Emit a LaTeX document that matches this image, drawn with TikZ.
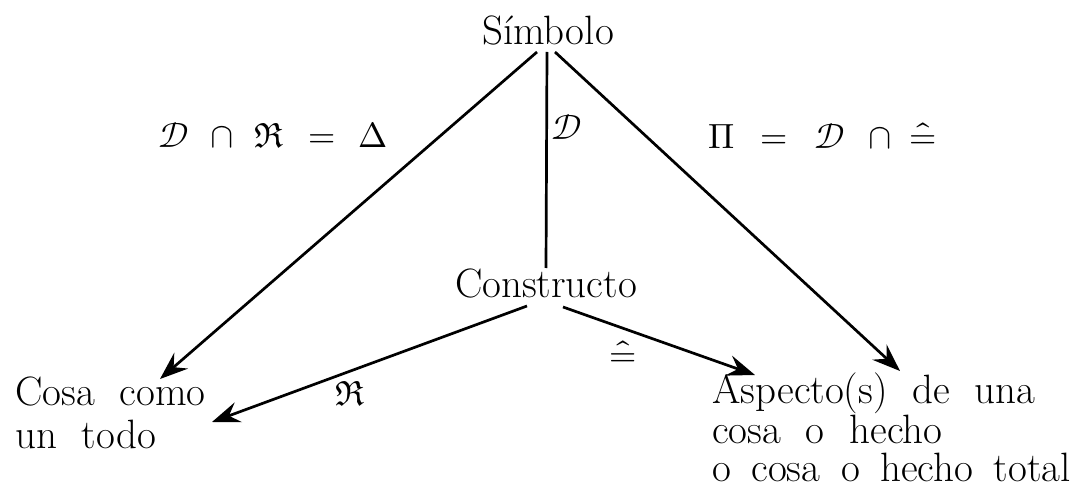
\documentclass[tikz,border=0pt]{standalone}
\usepackage{fontspec}
\usepackage{unicode-math}
\setmathfont{Latin Modern Math}
\usetikzlibrary{arrows.meta}
\tikzset{
  txt/.style={inner sep=0pt, font=\fontsize{41}{38}\selectfont},
  lbl/.style={inner sep=0pt, font=\fontsize{35}{38}\selectfont},
  conn/.style={line width=2.7pt},
  arr/.style={conn, -{Stealth[length=28pt,width=21pt,inset=10pt]}}
}
\newcommand{\wsp}{\hspace{0.5em}}
\begin{document}
\begin{tikzpicture}[x=1pt,y=-1pt]
\useasboundingbox (0,0) rectangle (1079,489);
% texts
\node[txt, anchor=base] (sim) at (548,45) {Símbolo};
\node[txt, anchor=base] (con) at (546,297) {Constructo};
\node[txt, anchor=base west, align=left] (cosa) at (15,448) {Cosa\ \ como\\[5pt]un\ \ todo};
\node[txt, anchor=base west, align=left] (asp) at (712,481) {Aspecto(s)\ \ de\ \ una\\cosa\ \ o\ \ hecho\\o\wsp cosa\wsp o\wsp hecho\wsp total};
% end points
\coordinate (s1) at (537,52);
\coordinate (s2) at (547,52);
\coordinate (s3) at (555,52);
\coordinate (c0) at (546,268);
\coordinate (c1) at (527,306);
\coordinate (c2) at (563,307);
\coordinate (t1) at (160,379);
\coordinate (t2) at (900,371);
\coordinate (t3) at (212,422);
\coordinate (t4) at (755,375);
% connectors
\draw[arr] (s1) -- (t1);
\draw[conn] (s2) -- (c0);
\draw[arr] (s3) -- (t2);
\draw[arr] (c1) -- (t3);
\draw[arr] (c2) -- (t4);
% labels
\node[lbl, anchor=base west] (l1) at (158,148) {$\mathscr{D}\mkern7mu\cap\mkern7mu\mathfrak{R}\mkern7mu=\mkern7mu\Delta$};
\node[lbl] (l2) at (567,127) {$\mathscr{D}$};
\node[lbl, anchor=base west] (l3) at (708,149) {$\Pi\mkern8.5mu=\mkern8.5mu\mathscr{D}\mkern8.5mu\cap\mkern5mu\hat{=}$};
\node[lbl] (l4) at (350,394) {$\mathfrak{R}$};
\node[lbl] (l5) at (623,354) {$\hat{=}$};
\end{tikzpicture}
\end{document}
